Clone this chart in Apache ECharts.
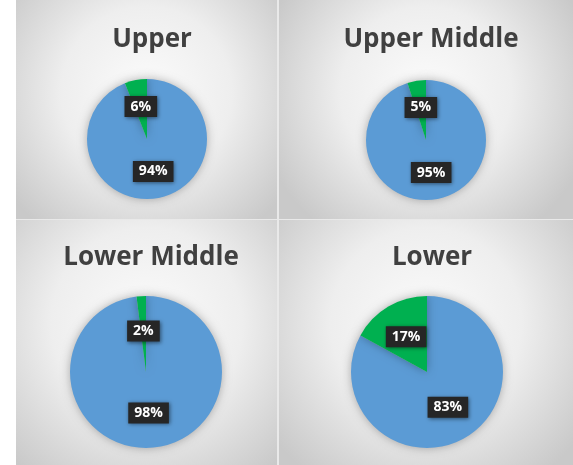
<!DOCTYPE html>
<html><head><meta charset="utf-8">
<script src="https://cdn.jsdelivr.net/npm/echarts@6/dist/echarts.min.js"></script>
<style>html,body{margin:0;padding:0;background:#fff}#c{width:573px;height:465px}</style>
</head><body><div id="c"></div>
<script>
const panelTitles = ['Upper', 'Upper Middle', 'Lower Middle', 'Lower'];
const sliceNames = ['Rest', 'Share'];
const blueValues = [94, 95, 98, 83];
const greenValues = [6, 5, 2, 17];

const chart = echarts.init(document.getElementById('c'), null, {renderer: 'canvas'});
const boxes = [
  {x: 16, y: 0, w: 261, h: 219, cx: 147, cy: 139, r: 60},
  {x: 279, y: 0, w: 294, h: 219, cx: 426, cy: 140, r: 60},
  {x: 16, y: 220, w: 261, h: 245, cx: 146, cy: 372, r: 76},
  {x: 279, y: 220, w: 294, h: 245, cx: 427, cy: 372, r: 76}
];
const graphic = [{
  type: 'rect', z: -20, silent: true,
  shape: {x: 16, y: 0, width: 557, height: 465},
  style: {fill: '#e9e9e9'}
}].concat(boxes.map(b => ({
  type: 'rect', z: -10, silent: true,
  shape: {x: b.x, y: b.y, width: b.w, height: b.h},
  style: {fill: new echarts.graphic.RadialGradient(0.5, 0.42, 0.78, [
    {offset: 0, color: '#fbfbfb'}, {offset: 0.5, color: '#eeeeee'}, {offset: 1, color: '#c9c9c9'}])}
})));
const titles = boxes.map((b, i) => ({
  text: panelTitles[i], left: b.cx, top: i < 2 ? 22 : 240, textAlign: 'center',
  textStyle: {fontFamily: 'Open Sans', fontWeight: 'bold', fontSize: 26, color: '#404040'}
}));
const series = boxes.map((b, i) => ({
  type: 'pie', center: [b.cx, b.cy], radius: [0, b.r], startAngle: 90, clockwise: true,
  silent: true, animation: false,
  itemStyle: {shadowBlur: 10, shadowColor: 'rgba(0,0,0,0.3)', borderWidth: 0},
  label: {
    show: true, position: 'inside', formatter: '{c}%',
    fontFamily: 'Open Sans', fontWeight: 'bold', fontSize: 14, color: '#fff',
    backgroundColor: '#262626', padding: [4, 6, 3, 6],
    shadowBlur: 4, shadowColor: 'rgba(0,0,0,0.5)', shadowOffsetX: 1, shadowOffsetY: 1
  },
  labelLine: {show: false},
  data: [
    {name: sliceNames[0], value: blueValues[i], itemStyle: {color: '#5B9BD5'}},
    {name: sliceNames[1], value: greenValues[i], itemStyle: {color: '#00B050'}}
  ]
}));
chart.setOption({backgroundColor: '#ffffff', graphic: graphic, title: titles, series: series});
</script></body></html>
